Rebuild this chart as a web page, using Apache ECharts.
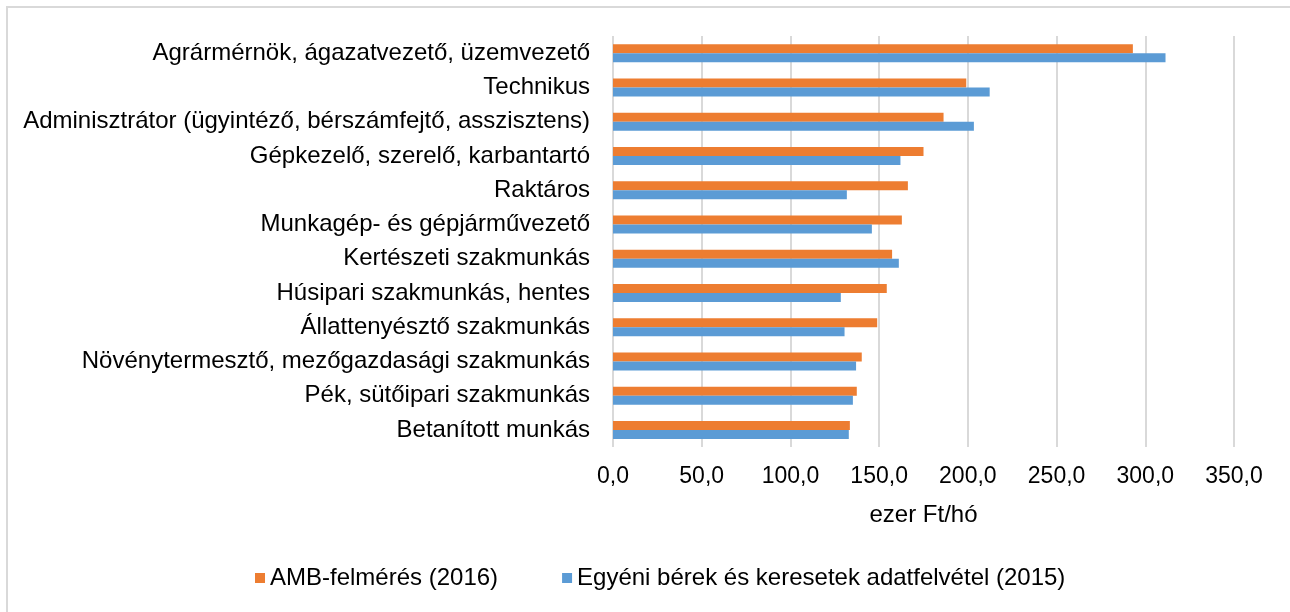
<!DOCTYPE html>
<html>
<head>
<meta charset="utf-8">
<script src="https://cdn.jsdelivr.net/npm/echarts@6/dist/echarts.min.js"></script>
<style>
  html, body { margin: 0; padding: 0; background: #fff; }
  #chart { width: 1290px; height: 612px; }
</style>
</head>
<body>
<div id="chart"></div>
<script>
// occupations, top to bottom as in the source
const categories = [
    'Agrármérnök, ágazatvezető, üzemvezető',
    'Technikus',
    'Adminisztrátor (ügyintéző, bérszámfejtő, asszisztens)',
    'Gépkezelő, szerelő, karbantartó',
    'Raktáros',
    'Munkagép- és gépjárművezető',
    'Kertészeti szakmunkás',
    'Húsipari szakmunkás, hentes',
    'Állattenyésztő szakmunkás',
    'Növénytermesztő, mezőgazdasági szakmunkás',
    'Pék, sütőipari szakmunkás',
    'Betanított munkás'
];

// ezer Ft/hó
const ambValues = [293.0, 199.1, 186.3, 175.0, 166.2, 162.8, 157.3, 154.3, 148.9, 140.2, 137.4, 133.5];
const ebkValues = [311.4, 212.3, 203.4, 162.0, 131.8, 145.9, 161.1, 128.4, 130.5, 137.0, 135.2, 132.9];

const seriesNames = ['AMB-felmérés (2016)', 'Egyéni bérek és keresetek adatfelvétel (2015)'];
const axisTitle = 'ezer Ft/hó';

const font = 'Liberation Sans, Arial, sans-serif';

const chart = echarts.init(document.getElementById('chart'));

const option = {
    animation: false,
    textStyle: { fontFamily: font },
    graphic: [{
        type: 'rect',
        shape: { x: 7, y: 7, width: 1300, height: 620 },
        style: { fill: 'none', stroke: '#d9d9d9', lineWidth: 2 },
        silent: true
    }],
    legend: {
        bottom: 17,
        left: 250,
        itemWidth: 10,
        itemHeight: 10,
        itemGap: 64,
        icon: 'rect',
        textStyle: { color: '#000', fontSize: 24, fontFamily: font }
    },
    grid: {
        left: 613, right: 56, top: 36, bottom: 165,
        containLabel: false,
        outerBoundsMode: 'none'
    },
    xAxis: {
        type: 'value',
        min: 0,
        max: 350,
        interval: 50,
        name: axisTitle,
        nameLocation: 'middle',
        nameGap: 56,
        nameTextStyle: { color: '#000', fontSize: 24, fontFamily: font },
        axisLine: { show: false },
        axisTick: { show: false },
        axisLabel: {
            color: '#000', fontSize: 23, margin: 18,
            formatter: v => v.toFixed(1).replace('.', ',')
        },
        splitLine: { show: true, lineStyle: { color: '#d9d9d9', width: 2 } }
    },
    yAxis: {
        type: 'category',
        inverse: true,
        data: categories,
        axisLine: { show: false },
        axisTick: { show: false },
        axisLabel: { color: '#000', fontSize: 24, margin: 23 }
    },
    series: [{
        name: seriesNames[0],
        type: 'bar',
        data: ambValues,
        barWidth: 9,
        barGap: '0%',
        itemStyle: { color: '#ED7D31' }
    }, {
        name: seriesNames[1],
        type: 'bar',
        data: ebkValues,
        barWidth: 9,
        barGap: '0%',
        itemStyle: { color: '#5B9BD5' }
    }]
};

chart.setOption(option);
window.addEventListener('resize', () => chart.resize());
</script>
</body>
</html>
